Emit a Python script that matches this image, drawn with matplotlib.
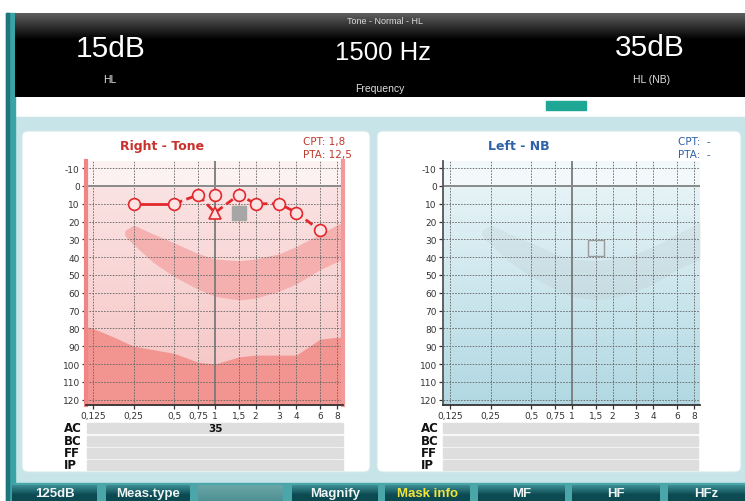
import numpy as np
import matplotlib.pyplot as plt
from matplotlib.patches import Rectangle, FancyBboxPatch
from matplotlib.colors import to_rgb

plt.rcParams['axes.unicode_minus'] = False

W, H = 745, 502

# audiogram axes
freq_ticks = [0.125, 0.25, 0.5, 0.75, 1, 1.5, 2, 3, 4, 6, 8]
freq_labels = ['0,125', '0,25', '0,5', '0,75', '1', '1,5', '2', '3', '4', '6', '8']
db_ticks = list(range(-10, 130, 10))

# right ear, air conduction (circles)
right_ac_freq = [0.25, 0.5, 0.75, 1, 1.5, 2, 3, 4, 6]
right_ac_db = [10, 10, 5, 5, 5, 10, 10, 15, 25]
# right ear, masked value (triangle)
right_masked_freq = [1]
right_masked_db = [15]
# the curve uses the masked value at 1 kHz
right_line_freq = [0.25, 0.5, 0.75, 1, 1.5, 2, 3, 4, 6]
right_line_db = [10, 10, 5, 15, 5, 10, 10, 15, 25]

# current cursor positions (kHz, dB)
cursor_freq = 1.5
cursor_right_db = 15
cursor_left_db = 35

# speech banana
banana_freq = [0.215, 0.25, 0.35, 0.5, 0.75, 1, 1.5, 2, 3, 4, 6, 8.9]
banana_top = [25, 22, 27, 32, 38, 41, 42, 41, 38, 34, 27, 20]
banana_bottom = [28, 33, 43, 51, 58, 62, 64, 63, 59, 55, 47, 41]

# limit of the output range (bottom fill)
limit_freq = [0.11, 0.125, 0.18, 0.25, 0.5, 0.75, 1, 1.5, 2, 3, 4, 6, 8, 8.9]
limit_db = [79, 80, 85, 90, 94, 99, 100, 96, 95, 95, 95, 86, 85, 85]

rows = ['AC', 'BC', 'FF', 'IP']
right_ac_row = {1: '35'}

right_cpt = ['CPT: 1,8', 'PTA: 12,5']
left_cpt = ['CPT:  -', 'PTA:  -']

buttons = ['125dB', 'Meas.type', '', 'Magnify', 'Mask info', 'MF', 'HF', 'HFz']

RED = '#e2282c'
BLUE = '#2f62a8'
HEAD = ['Liberation Sans', 'DejaVu Sans']
NARROW = ['Liberation Sans Narrow', 'Liberation Sans', 'DejaVu Sans']


def lerp(c0, c1, t):
    a = np.array(to_rgb(c0))
    b = np.array(to_rgb(c1))
    return a + (b - a) * np.asarray(t)[:, None]


fig = plt.figure(figsize=(W / 100, H / 100), dpi=100)
bg = fig.add_axes([0, 0, 1, 1])
bg.axis('off')

# app frame
bg.add_patch(Rectangle((0, 0), W, H, color='white', zorder=0))
bg.add_patch(Rectangle((15, 118), W - 15, 370, color='#c7e5e8', zorder=0))
bg.add_patch(Rectangle((6, 14), 9, H - 14, color='#3aa3a6', zorder=1))
bg.add_patch(Rectangle((6, 14), 3, H - 14, color='#1d767c', zorder=1))

# header
t = np.linspace(0, 1, 84)
img = lerp('#5e5e5e', '#000000', np.clip(t * 3.2, 0, 1))
bg.imshow(img[:, None, :], extent=[15, W, 98, 14], aspect='auto', zorder=1)
bg.add_patch(Rectangle((546, 102), 40, 9, color='#1fa795', zorder=2))

bg.text(385, 22, 'Tone - Normal - HL', color='#d8d8d8', fontsize=6.5,
        ha='center', va='center', family=HEAD, zorder=3)
bg.text(111, 49, '%ddB' % cursor_right_db, color='white', fontsize=21.5,
        ha='center', va='center', family=HEAD, zorder=3)
bg.text(110, 80, 'HL', color='#e0e0e0', fontsize=7.5,
        ha='center', va='center', family=HEAD, zorder=3)
bg.text(383, 53, '%d Hz' % (cursor_freq * 1000), color='white', fontsize=18.5,
        ha='center', va='center', family=HEAD, zorder=3)
bg.text(380, 89, 'Frequency', color='#e0e0e0', fontsize=7.5,
        ha='center', va='center', family=HEAD, zorder=3)
bg.text(650, 48, '%ddB' % cursor_left_db, color='white', fontsize=21.5,
        ha='center', va='center', family=HEAD, zorder=3)
bg.text(652, 80, 'HL (NB)', color='#e0e0e0', fontsize=7.5,
        ha='center', va='center', family=HEAD, zorder=3)

# panels
for px0, px1 in [(22, 370), (377, 741)]:
    bg.add_patch(FancyBboxPatch((px0, 132), px1 - px0, 341,
                                boxstyle='round,pad=0,rounding_size=6',
                                fc='white', ec='#d5e8ea', lw=0.8, zorder=1))

# plot backgrounds (vertical gradients)
dbs = np.linspace(-14, 123, 300)
tt = np.clip(dbs / 120, 0, 1)
red_img = lerp('#fbe3e3', '#f6c3c3', tt)
red_img[dbs < 0] = to_rgb('#fdf2f2')
blue_img = lerp('#e6f3f7', '#b2d9e3', tt)
blue_img[dbs < 0] = to_rgb('#f2f9fb')
bg.imshow(red_img[:, None, :], extent=[86, 343, 406, 162], aspect='auto', zorder=2)
bg.imshow(blue_img[:, None, :], extent=[443, 700, 406, 162], aspect='auto', zorder=2)

# titles and CPT/PTA
bg.text(162, 147, 'Right - Tone', color='#c9302c', fontsize=9, fontweight='bold',
        ha='center', va='center', zorder=3)
bg.text(519, 147, 'Left - NB', color=BLUE, fontsize=9, fontweight='bold',
        ha='center', va='center', zorder=3)
for i, s in enumerate(right_cpt):
    bg.text(303, 142 + i * 13, s, color='#c0392b', fontsize=7.5,
            ha='left', va='center', zorder=3)
for i, s in enumerate(left_cpt):
    bg.text(678, 142 + i * 13, s, color=BLUE, fontsize=7.5,
            ha='left', va='center', zorder=3)

# AC / BC / FF / IP rows
row_y = [429, 442, 454, 466]
for lab, ry in zip(rows, row_y):
    bg.add_patch(Rectangle((87, ry - 5), 256, 10, color='#dedede', zorder=2))
    bg.add_patch(Rectangle((443, ry - 5), 255, 10, color='#dedede', zorder=2))
    bg.text(64, ry, lab, fontsize=8.5, fontweight='bold', color='#111111',
            ha='left', va='center', zorder=3)
    bg.text(421, ry, lab, fontsize=8.5, fontweight='bold', color='#111111',
            ha='left', va='center', zorder=3)
for f, s in right_ac_row.items():
    fx = 93 + 41 * np.log2(f / 0.125)
    bg.text(fx, row_y[0], s, fontsize=7.5, fontweight='bold', color='#111111',
            ha='center', va='center', zorder=3)

# button bar
bg.add_patch(Rectangle((15, 484), W - 15, 18, color='#4aa6a8', zorder=1))
button_x = [(12, 97), (106, 190), (198, 283), (292, 378), (385, 470),
            (478, 565), (572, 660), (668, 745)]
tb = np.linspace(0, 1, 20)
for lab, (bx0, bx1) in zip(buttons, button_x):
    if lab == '':
        bimg = lerp('#6aa6a8', '#4e9194', tb)
    else:
        bimg = lerp('#3b8c92', '#0c4a52', np.clip(tb * 1.6, 0, 1))
    bg.imshow(bimg[:, None, :], extent=[bx0, bx1, 502, 486], aspect='auto', zorder=2)
    col = '#f2e43a' if lab == 'Mask info' else '#eef4f4'
    bg.text((bx0 + bx1) / 2, 494.5, lab, color=col, fontsize=9.5, fontweight='bold',
            ha='center', va='center', family=NARROW, zorder=3)

bg.set_xlim(0, W)
bg.set_ylim(H, 0)


def audiogram(x0, left_spine, right_spine):
    ax = fig.add_axes([x0 / W, 1 - 406 / H, 257 / W, 244 / H])
    ax.set_facecolor('none')
    ax.set_xscale('log')
    ax.set_xlim(0.111, 8.86)
    ax.set_ylim(123, -14)
    ax.set_xticks(freq_ticks)
    ax.set_xticklabels(freq_labels)
    ax.xaxis.set_minor_locator(plt.NullLocator())
    ax.set_yticks(db_ticks)
    ax.tick_params(axis='both', labelsize=6.5, colors='#333333', length=3,
                   width=0.9, pad=1.5)
    for f in freq_ticks:
        if f == 1:
            ax.axvline(f, color='#7a7a7a', lw=1.3, zorder=2)
        else:
            ax.axvline(f, color='#666666', lw=0.6, ls=(0, (2, 1.5)), zorder=2)
    for d in db_ticks:
        if d == 0:
            ax.axhline(d, color='#8a8a8a', lw=1.4, zorder=2)
        else:
            ax.axhline(d, color='#666666', lw=0.6, ls=(0, (2, 1.5)), zorder=2)
    ax.spines['top'].set_visible(False)
    ax.spines['bottom'].set_color('#333333')
    ax.spines['bottom'].set_linewidth(1.3)
    ax.spines['left'].set_color(left_spine[0])
    ax.spines['left'].set_linewidth(left_spine[1])
    if right_spine is None:
        ax.spines['right'].set_visible(False)
    else:
        ax.spines['right'].set_color(right_spine[0])
        ax.spines['right'].set_linewidth(right_spine[1])
    return ax


# right ear (left panel)
ax1 = audiogram(86, ('#f08585', 3), ('#f29a9a', 3))
ax1.fill_between(limit_freq, limit_db, 125, color='#f29490', lw=0, zorder=1)
ax1.fill_between(banana_freq, banana_top, banana_bottom, color='#f4a6a6',
                 alpha=0.8, lw=0, zorder=1)
ax1.plot(right_line_freq[:2], right_line_db[:2], color=RED, lw=2, zorder=3)
ax1.plot(right_line_freq[1:], right_line_db[1:], color=RED, lw=2,
         ls=(0, (3, 1.6)), zorder=3)
ax1.plot(right_ac_freq, right_ac_db, 'o', ms=8.5, mfc='#fbe3e3', mec=RED,
         mew=1.2, zorder=4)
ax1.plot(right_masked_freq, right_masked_db, '^', ms=8.5, mfc='#fbe3e3', mec=RED,
         mew=1.2, zorder=4)
ax1.plot([cursor_freq], [cursor_right_db], 's', ms=10, color='#a6a6a6', zorder=4)

# left ear (right panel)
ax2 = audiogram(443, ('#555555', 1.3), None)
ax2.fill_between(banana_freq, banana_top, banana_bottom, color='#b8c4c8',
                 alpha=0.22, lw=0, zorder=1)
ax2.plot([cursor_freq], [cursor_left_db], 's', ms=11, mfc='none', mec='#999999',
         mew=1, zorder=4)

fig.savefig('out.png', dpi=100)
